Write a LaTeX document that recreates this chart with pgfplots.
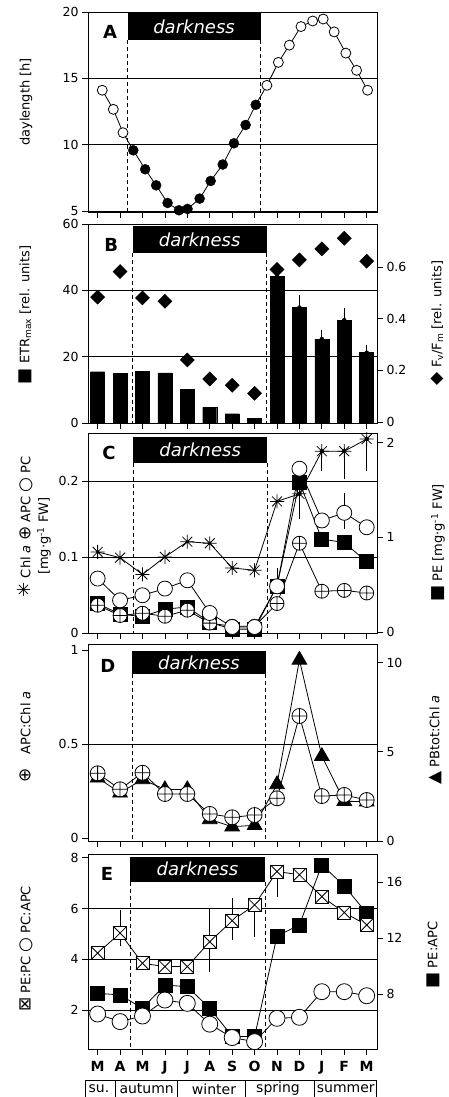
\documentclass[border=0pt]{standalone}
\usepackage{fontspec}
\setmainfont{DejaVu Sans}
\usepackage{pgfplots}
\pgfplotsset{compat=1.18}
\usetikzlibrary{plotmarks}

\pgfdeclareplotmark{boxx}{%
  \pgfpathrectangle{\pgfpoint{-\pgfplotmarksize}{-\pgfplotmarksize}}{\pgfpoint{2\pgfplotmarksize}{2\pgfplotmarksize}}%
  \pgfusepathqfillstroke
  \pgfpathmoveto{\pgfpoint{-\pgfplotmarksize}{-\pgfplotmarksize}}\pgfpathlineto{\pgfpoint{\pgfplotmarksize}{\pgfplotmarksize}}%
  \pgfpathmoveto{\pgfpoint{-\pgfplotmarksize}{\pgfplotmarksize}}\pgfpathlineto{\pgfpoint{\pgfplotmarksize}{-\pgfplotmarksize}}%
  \pgfusepathqstroke}
\pgfdeclareplotmark{ast8}{%
  \pgfpathmoveto{\pgfpoint{-\pgfplotmarksize}{0pt}}\pgfpathlineto{\pgfpoint{\pgfplotmarksize}{0pt}}%
  \pgfpathmoveto{\pgfpoint{0pt}{-\pgfplotmarksize}}\pgfpathlineto{\pgfpoint{0pt}{\pgfplotmarksize}}%
  \pgfpathmoveto{\pgfpoint{-.707\pgfplotmarksize}{-.707\pgfplotmarksize}}\pgfpathlineto{\pgfpoint{.707\pgfplotmarksize}{.707\pgfplotmarksize}}%
  \pgfpathmoveto{\pgfpoint{-.707\pgfplotmarksize}{.707\pgfplotmarksize}}\pgfpathlineto{\pgfpoint{.707\pgfplotmarksize}{-.707\pgfplotmarksize}}%
  \pgfusepathqstroke}

\newcommand{\fs}[1]{\fontsize{#1}{#1}\selectfont}

\pgfplotsset{
  base/.style={scale only axis, width=289pt, xmin=-0.43, xmax=12.46,
    anchor=south west, clip=false, tick align=outside,
    major tick length=6pt,
    tick style={black, line width=0.7pt},
    tick label style={font=\fs{12.5}},
    /pgf/number format/assume math mode=true,
    axis line style={line width=0.7pt}},
  panel/.style={base, xtick={0,...,12}, xticklabels={}, xtick pos=left, ytick pos=left,
    grid style={line width=0.5pt, black}},
  twin/.style={base, axis x line=none, axis y line*=right},
  ln/.style={black, line width=0.8pt},
  ebar/.style={forget plot, only marks, mark=none,
    error bars/.cd, y dir=both, y explicit,
    error bar style={black, solid, line width=0.7pt},
    error mark=-, error mark options={black, solid, mark size=3.5pt, line width=0.7pt}},
}

\newcommand{\dark}[6]{%
  \draw[line width=0.7pt, dash pattern=on 4pt off 3pt] ({axis cs:#1,0}|-{rel axis cs:0,#4}) -- ({axis cs:#1,0}|-{rel axis cs:0,0});
  \draw[line width=0.7pt, dash pattern=on 4pt off 3pt] ({axis cs:#2,0}|-{rel axis cs:0,#4}) -- ({axis cs:#2,0}|-{rel axis cs:0,0});
  \fill[black] ({axis cs:#1,0}|-{rel axis cs:0,#3}) rectangle ({axis cs:#2,0}|-{rel axis cs:0,#4});
  \node[white, font=\itshape\fs{18}] at ({axis cs:#5,0}|-{rel axis cs:0,#6}) {darkness};
}

\begin{document}
\begin{tikzpicture}
\path[use as bounding box] (0pt,0pt) rectangle (448pt,1097pt);

% ---------------- A ----------------
\begin{axis}[panel, at={(88pt,885pt)}, height=200pt, ymin=4.92, ymax=20, ytick={5,10,15,20}, ymajorgrids]
\dark{1.34}{7.27}{0.995}{0.86}{4.30}{0.9275}
\addplot[ln] coordinates {(0.205,14.1)(0.70,12.66)(1.13,10.9)(1.59,9.57)(2.12,8.14)(2.61,6.93)(3.12,5.6)(3.63,5.05)(4.01,5.15)(4.55,5.93)(5.04,7.26)(5.58,8.5)(6.08,10.1)(6.60,11.48)(7.05,13.0)(7.55,14.47)(8.06,16.2)(8.55,17.5)(9.07,18.9)(9.59,19.32)(10.06,19.47)(10.55,18.5)(11.07,16.9)(11.55,15.6)(12.04,14.1)};
\addplot[only marks, mark=*, mark size=5pt, mark options={fill=white, draw=black, line width=0.8pt}] coordinates {(0.205,14.1)(0.70,12.66)(1.13,10.9)(7.55,14.47)(8.06,16.2)(8.55,17.5)(9.07,18.9)(9.59,19.32)(10.06,19.47)(10.55,18.5)(11.07,16.9)(11.55,15.6)(12.04,14.1)};
\addplot[only marks, mark=*, mark size=5pt, mark options={fill=black, draw=black}] coordinates {(1.59,9.57)(2.12,8.14)(2.61,6.93)(3.12,5.6)(3.63,5.05)(4.01,5.15)(4.55,5.93)(5.04,7.26)(5.58,8.5)(6.08,10.1)(6.60,11.48)(7.05,13.0)};
\node[font=\bfseries\fs{18}] at (rel axis cs:0.076,0.9) {A};
\end{axis}

% ---------------- B ----------------
\begin{axis}[twin, at={(88pt,674pt)}, height=199pt, ymin=-0.004, ymax=0.766, ytick={0,0.2,0.4,0.6}]
\addplot[only marks, mark=square*, mark size=5pt, mark options={rotate=45, fill=black, draw=black}] coordinates {(0,0.483)(1,0.582)(2,0.48)(3,0.467)(4,0.24)(5,0.166)(6,0.142)(7,0.111)(8,0.59)(9,0.627)(10,0.67)(11,0.711)(12,0.622)};
\end{axis}
\begin{axis}[panel, at={(88pt,674pt)}, height=199pt, ymin=0, ymax=60, ytick={0,20,40,60}, ymajorgrids]
\dark{1.56}{7.54}{0.99}{0.854}{4.55}{0.922}
\addplot[ebar] coordinates {(8,44.2) += (0,2.5) -= (0,0) (9,34.8) += (0,2.8) -= (0,0) (10,25.3) += (0,1.8) -= (0,0) (11,31.0) += (0,2.5) -= (0,0) (12,21.2) += (0,1.4) -= (0,0)};
\addplot[ybar, bar width=14pt, bar shift=0pt, fill=black, draw=black] coordinates {(0,15.45)(1,15.0)(2,15.5)(3,15.1)(4,10.2)(5,4.7)(6,2.8)(7,1.4)(8,44.2)(9,34.8)(10,25.3)(11,31.0)(12,21.2)};
\node[font=\bfseries\fs{18}] at (rel axis cs:0.08,0.894) {B};
\end{axis}

% ---------------- C ----------------
\begin{axis}[twin, at={(88pt,464pt)}, height=200pt, ymin=-0.011, ymax=2.10, ytick={0,1,2}]
\addplot[ln, mark=square*, mark size=7pt, mark options={fill=black, draw=black}] coordinates {(0,0.30)(1,0.187)(2,0.163)(3,0.24)(4,0.264)(5,0.10)(6,0.03)(7,0.03)(8,0.486)(9,1.58)(10,0.98)(11,0.944)(12,0.74)};
\end{axis}
\begin{axis}[panel, at={(88pt,464pt)}, height=200pt, ymin=0, ymax=0.263, ytick={0,0.1,0.2}, ymajorgrids]
\dark{1.59}{7.56}{0.98}{0.85}{4.575}{0.915}
\addplot[ebar] coordinates {(9,0.183) += (0,0) -= (0,0.028) (10,0.239) += (0,0) -= (0,0.021) (11,0.239) += (0,0) -= (0,0.032) (12,0.255) += (0,0) -= (0,0.038) (8,0.0614) += (0,0.019) -= (0,0) (11,0.158) += (0,0.021) -= (0,0.016)};
\addplot[ln, mark=oplus*, mark size=7pt, mark options={fill=white, draw=black, line width=0.8pt}] coordinates {(0,0.0365)(1,0.023)(2,0.026)(3,0.022)(4,0.030)(5,0.013)(6,0.0088)(7,0.0088)(8,0.0387)(9,0.118)(10,0.0549)(11,0.056)(12,0.0526)};
\addplot[ln, mark=*, mark size=7.5pt, mark options={fill=white, draw=black, line width=0.8pt}] coordinates {(0,0.0716)(1,0.043)(2,0.0496)(3,0.0584)(4,0.0693)(5,0.0263)(6,0.0079)(7,0.0079)(8,0.0614)(9,0.216)(10,0.148)(11,0.158)(12,0.139)};
\addplot[ln, mark=ast8, mark size=7pt, mark options={draw=black, line width=0.8pt}] coordinates {(0,0.1066)(1,0.099)(2,0.077)(3,0.100)(4,0.120)(5,0.118)(6,0.0855)(7,0.0825)(8,0.173)(9,0.183)(10,0.239)(11,0.239)(12,0.255)};
\node[font=\bfseries\fs{18}] at (rel axis cs:0.073,0.90) {C};
\end{axis}

% ---------------- D ----------------
\begin{axis}[twin, at={(88pt,256pt)}, height=197pt, ymin=0, ymax=11.04, ytick={0,5,10}]
\addplot[ln, mark=triangle*, mark size=8.5pt, mark options={fill=black, draw=black}] coordinates {(0,3.54)(1,2.70)(2,3.45)(3,2.89)(4,2.89)(5,1.21)(6,0.80)(7,0.88)(8,3.17)(9,10.15)(10,4.75)(11,2.23)(12,2.2)};
\end{axis}
\begin{axis}[panel, at={(88pt,256pt)}, height=197pt, ymin=-0.016, ymax=1.032, ytick={0,0.5,1}]
\draw[line width=0.5pt] (axis cs:-0.43,0.5) -- (axis cs:12.46,0.5);
\dark{1.54}{7.49}{0.966}{0.846}{4.515}{0.906}
\addplot[ln, mark=oplus*, mark size=7.5pt, mark options={fill=white, draw=black, line width=0.8pt}] coordinates {(0,0.344)(1,0.259)(2,0.347)(3,0.234)(4,0.234)(5,0.128)(6,0.11)(7,0.122)(8,0.211)(9,0.649)(10,0.223)(11,0.229)(12,0.202)};
\node[font=\bfseries\fs{18}] at (rel axis cs:0.069,0.888) {D};
\end{axis}

% ---------------- E ----------------
\begin{axis}[twin, at={(88pt,48pt)}, height=195pt, ymin=4.09, ymax=18.02, ytick={4,8,12,16}]
\addplot[ln, mark=square*, mark size=7pt, mark options={fill=black, draw=black}] coordinates {(0,8.07)(1,7.95)(2,7.0)(3,8.66)(4,8.54)(5,7.0)(6,5.0)(7,4.97)(8,12.16)(9,12.95)(10,17.24)(11,15.74)(12,13.79)};
\end{axis}
\begin{axis}[panel, at={(88pt,48pt)}, height=195pt, ymin=0.46, ymax=8.15, ytick={2,4,6,8},
  xticklabels={M,A,M,J,J,A,S,O,N,D,J,F,M}, xticklabel style={font=\bfseries\fs{14}, yshift=-3pt}]
\draw[line width=0.5pt] (axis cs:-0.43,2) -- (axis cs:12.46,2);
\draw[line width=0.5pt] (axis cs:-0.43,4) -- (axis cs:12.46,4);
\draw[line width=0.5pt] (axis cs:-0.43,6) -- (axis cs:12.46,6);
\dark{1.44}{7.46}{0.986}{0.858}{4.45}{0.922}
\addplot[ebar] coordinates {(1,5.03) += (0,0.77) -= (0,0.38) (5,4.69) += (0,1.15) -= (0,1.05) (6,5.52) += (0,0.74) -= (0,0.62) (7,6.14) += (0,0) -= (0,1.11) (8,7.46) += (0,0) -= (0,0.86)};
\addplot[ln, mark=*, mark size=8pt, mark options={fill=white, draw=black, line width=0.8pt}] coordinates {(0,1.84)(1,1.54)(2,1.76)(3,2.39)(4,2.26)(5,1.44)(6,0.91)(7,0.75)(8,1.67)(9,1.71)(10,2.72)(11,2.72)(12,2.56)};
\addplot[ln, mark=boxx, mark size=6.5pt, mark options={fill=white, draw=black, line width=0.8pt}] coordinates {(0,4.24)(1,5.03)(2,3.84)(3,3.71)(4,3.71)(5,4.69)(6,5.52)(7,6.14)(8,7.46)(9,7.33)(10,6.47)(11,5.84)(12,5.35)};
\node[font=\bfseries\fs{18}] at (rel axis cs:0.066,0.897) {E};
\end{axis}

% ---------------- axis titles ----------------
\node[rotate=90, font=\fs{13}] at (26pt,995pt) {daylength [h]};
\node[rotate=90, font=\fs{13}] at (25pt,782pt) {{\fs{17}■} ETR\textsubscript{max} [rel. units]};
\node[rotate=90, font=\fs{13}] at (25pt,570pt) {{\fs{18}✳} Chl \textit{a} {\fs{17}⊕} APC {\fs{17}○} PC};
\node[rotate=90, font=\fs{13}] at (44pt,561pt) {[mg·g\textsuperscript{-1} FW]};
\node[rotate=90, font=\fs{13}] at (25pt,360pt) {{\fs{17}⊕}\hspace{14pt}APC:Chl \textit{a}};
\node[rotate=90, font=\fs{13}] at (26pt,148pt) {{\fs{17}⊠} PE:PC {\fs{17}○} PC:APC};

\node[rotate=90, font=\fs{13}] at (437pt,774pt) {{\fs{17}◆} F\textsubscript{v}/F\textsubscript{m} [rel. units]};
\node[rotate=90, font=\fs{13}] at (438pt,554pt) {{\fs{17}■} PE [mg·g\textsuperscript{-1} FW]};
\node[rotate=90, font=\fs{13}] at (435pt,357pt) {{\fs{17}▲} PBtot:Chl \textit{a}};
\node[rotate=90, font=\fs{13}] at (433pt,142pt) {{\fs{17}■} PE:APC};

% ---------------- seasons ----------------
\draw[line width=0.7pt] (85pt,17pt) -- (377pt,17pt);
\foreach \xx in {85,115,177.7,245.7,314.3,376.7} {\draw[line width=0.7pt] (\xx pt,17pt) -- (\xx pt,0pt);}
\node[font=\fs{14}] at (99pt,8pt) {su.};
\node[font=\fs{14}] at (146.7pt,8pt) {autumn};
\node[font=\fs{14}] at (214pt,8pt) {winter};
\node[font=\fs{14}] at (278pt,8pt) {spring};
\node[font=\fs{14}] at (345.8pt,8pt) {summer};
\end{tikzpicture}
\end{document}
